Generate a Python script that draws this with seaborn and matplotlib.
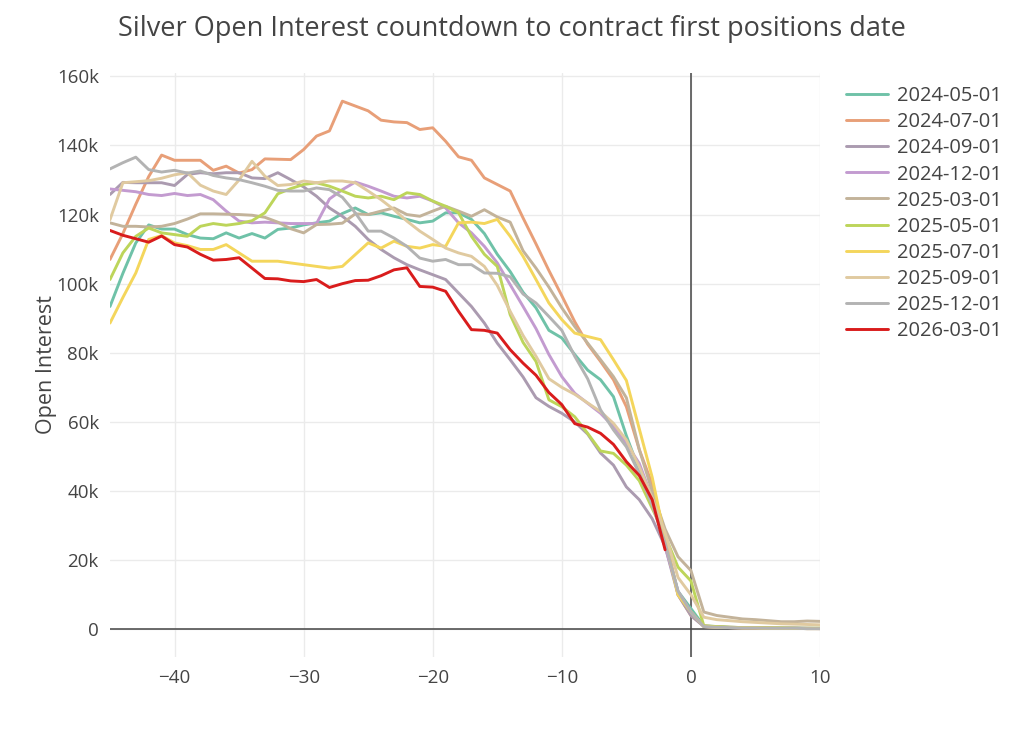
import numpy as np
import pandas as pd
import matplotlib
matplotlib.use("Agg")
import matplotlib.pyplot as plt
from matplotlib.ticker import FuncFormatter
import seaborn as sns

days = list(range(-45, 11))

# open interest in thousands, one value per day from -45 to +10
oi_2024_05 = [93.4, 103, 111.8, 117, 115.8, 115.8, 114.2, 113.2, 113, 114.7,
              113.2, 114.5, 113.2, 115.7, 116.1, 117, 117.6, 118.1, 120.3, 121.9,
              120, 120.5, 119.5, 118.6, 117.6, 118.1, 120.5, 120.5, 118.6, 114.5,
              108.5, 103.5, 97.5, 93, 86.5, 84.3, 79.5, 75, 72.2, 67.3,
              56, 46, 37, 25, 11, 6, 1, 0.8, 0.6, 0.5,
              0.5, 0.4, 0.4, 0.4, 0.3, 0.3]
oi_2024_07 = [107, 114.5, 123, 131, 137.2, 135.7, 135.7, 135.7, 132.8, 134,
              132, 133, 136.1, 136, 135.9, 138.8, 142.7, 144.2, 152.8, 151.4,
              150, 147.3, 146.8, 146.6, 144.6, 145.1, 141.2, 136.7, 135.7, 130.6,
              128.7, 126.8, 119, 111.5, 103.8, 96.5, 89, 82.5, 77.5, 72.2,
              64.4, 52, 42, 27, 10, 4, 1, 0.7, 0.6, 0.5,
              0.4, 0.4, 0.3, 0.3, 0.3, 0.3]
oi_2024_09 = [125.8, 129.3, 129.2, 129.2, 129.2, 128.4, 131.6, 132.1, 131.8, 132.1,
              132.1, 130.6, 130.4, 132.1, 130.1, 128, 125.3, 121.9, 119.5, 116.6,
              112.8, 109.9, 107.5, 105.5, 104, 102.6, 101.2, 97.3, 93.4, 88.6,
              82.8, 78, 73, 67, 64.5, 62.5, 60, 56.5, 51, 47.5,
              41.2, 37.5, 32, 24, 10, 4, 0.8, 0.6, 0.5, 0.4,
              0.4, 0.3, 0.3, 0.3, 0.2, 0.2]
oi_2024_12 = [127.4, 127, 126.6, 125.8, 125.5, 126.1, 125.5, 125.8, 124.3, 121,
              118.1, 117.6, 117.8, 117.6, 117.4, 117.4, 117.4, 124.5, 127.2, 129.4,
              128.2, 126.8, 125.3, 124.8, 125.3, 123.9, 121.9, 117.6, 114.7, 110.8,
              106, 99.7, 93.4, 87, 79.5, 73.1, 68.3, 65.4, 62.5, 58.6,
              53.8, 48, 38, 24, 11, 5, 0.8, 0.6, 0.5, 0.4,
              0.4, 0.3, 0.3, 0.3, 0.3, 0.2]
oi_2025_03 = [117.6, 116.6, 116.6, 116.4, 116.6, 117.4, 118.7, 120.2, 120.2, 120.1,
              120, 119.8, 119.2, 117.8, 115.9, 114.7, 117.1, 117.2, 117.5, 120.2,
              120, 121, 121.9, 120, 119.5, 121, 122.4, 121, 119.5, 121.4,
              119.3, 117.8, 109.5, 104.5, 99, 93, 87.6, 82.8, 78, 73.1,
              67, 52, 40, 29, 21, 17, 5, 4, 3.5, 3,
              2.8, 2.5, 2.2, 2.2, 2.4, 2.3]
oi_2025_05 = [101.2, 108.9, 113.7, 116.1, 114.7, 114.2, 113.7, 116.6, 117.4, 116.9,
              117.4, 118.2, 120.5, 126, 127.5, 128.7, 129.2, 128.2, 126.8, 125.3,
              124.8, 125.3, 124.3, 126.3, 125.8, 123.9, 122.4, 120.5, 113.7, 108.5,
              105, 91, 83, 77.5, 66.4, 64.4, 61.5, 56.7, 51.6, 50.9,
              47.5, 43, 35, 27, 18, 14, 1, 0.8, 0.6, 0.5,
              0.5, 0.4, 0.4, 0.3, 0.3, 0.3]
oi_2025_07 = [88.6, 96, 103.1, 112.8, 113.9, 111.8, 111, 109.9, 109.9, 111.3,
              108.9, 106.5, 106.5, 106.5, 106, 105.5, 105, 104.5, 105, 108.4,
              111.8, 110.3, 112.3, 110.8, 110.3, 111.3, 110.8, 117.6, 117.8, 117.4,
              118.6, 113.7, 107.9, 101.2, 94.4, 89.6, 85.7, 84.7, 83.8, 78,
              72, 58, 44, 26, 10, 5, 0.8, 0.6, 0.5, 0.4,
              0.4, 0.3, 0.3, 0.3, 0.2, 0.2]
oi_2025_09 = [118.5, 129.2, 129.5, 129.8, 130.5, 131.5, 132.1, 128.5, 126.8, 125.8,
              130, 135.4, 131.1, 128.4, 128.7, 129.7, 129.2, 129.7, 129.7, 129.2,
              126.8, 124.3, 121.4, 118.1, 115.2, 112.8, 110.3, 108.9, 107.9, 105,
              99.5, 92, 85, 79, 72.5, 70, 68, 65.5, 63, 59.6,
              54.8, 47, 38, 28, 15, 10, 3.5, 2.8, 2.5, 2.2,
              2, 1.8, 1.6, 1.5, 1.4, 1.3]
oi_2025_12 = [133.2, 135, 136.6, 133, 132.3, 132.8, 132, 132.6, 131.3, 130.6,
              130.1, 129.2, 128.2, 127, 126.8, 126.8, 127.7, 127.2, 125, 120.5,
              115.2, 115.2, 113.2, 110.8, 107.4, 106.5, 107, 105.5, 105.5, 103.1,
              103, 102, 97, 94.4, 90.5, 86.5, 79, 72.5, 63.5, 57.7,
              52.8, 45, 36, 25, 11, 5, 0.8, 0.6, 0.5, 0.4,
              0.4, 0.3, 0.3, 0.3, 0.2, 0.2]
# current contract, only up to day -2
oi_2026_03 = [115.4, 114, 113, 112, 113.8, 111.3, 110.6, 108.5, 106.8, 107,
              107.5, 104.5, 101.5, 101.4, 100.8, 100.6, 101.2, 98.9, 100, 100.9,
              101, 102.3, 104, 104.6, 99.2, 99, 97.8, 92, 86.7, 86.5,
              85.7, 80.9, 77, 73.5, 68.5, 65, 59.5, 58.5, 56.7, 53.5,
              48.5, 44.5, 37.5, 23]

contracts = ["2024-05-01", "2024-07-01", "2024-09-01", "2024-12-01", "2025-03-01",
             "2025-05-01", "2025-07-01", "2025-09-01", "2025-12-01", "2026-03-01"]
series = [oi_2024_05, oi_2024_07, oi_2024_09, oi_2024_12, oi_2025_03,
          oi_2025_05, oi_2025_07, oi_2025_09, oi_2025_12, oi_2026_03]
colors = ["#6fc2a8", "#e89f78", "#ab9bb0", "#c39bd0", "#c3b39a",
          "#bdd55a", "#f4d65c", "#e0caa0", "#b3b3b3", "#d91c1c"]

rows = []
for name, vals in zip(contracts, series):
    for d, v in zip(days, vals):
        rows.append({"day": d, "oi": v * 1000, "contract": name})
df = pd.DataFrame(rows)

sns.set_theme(style="white")
plt.rcParams["font.family"] = ["Open Sans", "DejaVu Sans"]
text_col = "#444444"

fig = plt.figure(figsize=(10.24, 7.32), dpi=100)
ax = fig.add_axes([0.1074, 0.1025, 0.6934, 0.798])

ax.axhline(0, color=text_col, lw=1.1, zorder=1)
ax.axvline(0, color=text_col, lw=1.1, zorder=1)

sns.lineplot(data=df, x="day", y="oi", hue="contract", hue_order=contracts,
             palette=dict(zip(contracts, colors)), linewidth=2.1, ax=ax,
             sort=False, estimator=None, zorder=3)

ax.set_xlim(-45, 10)
ax.set_ylim(-8000, 161000)
ax.set_xticks([-40, -30, -20, -10, 0, 10])
ax.set_yticks(range(0, 160001, 20000))
ax.yaxis.set_major_formatter(FuncFormatter(lambda v, p: "0" if v == 0 else f"{int(v / 1000)}k"))
ax.grid(True, color="#ebebeb", lw=1, zorder=0)
ax.set_axisbelow(True)
for s in ax.spines.values():
    s.set_visible(False)
ax.tick_params(axis="both", length=0, labelsize=13.5, colors=text_col)
ax.tick_params(axis="x", pad=9)
ax.tick_params(axis="y", pad=8)
ax.set_xlabel("")
ax.set_ylabel("Open Interest", fontsize=15.5, color=text_col, labelpad=0)

handles, labels = ax.get_legend_handles_labels()
ax.get_legend().remove()
fig.legend(handles, labels, loc="upper left", bbox_to_anchor=(0.818, 0.893),
           frameon=False, fontsize=14.5, handlelength=2.1, handletextpad=0.45,
           labelspacing=0.3, borderaxespad=0, labelcolor=text_col)

fig.text(0.5, 0.96, "Silver Open Interest countdown to contract first positions date",
         ha="center", va="center", fontsize=19.5, color=text_col)

fig.savefig("out.png", dpi=100, facecolor="white")
